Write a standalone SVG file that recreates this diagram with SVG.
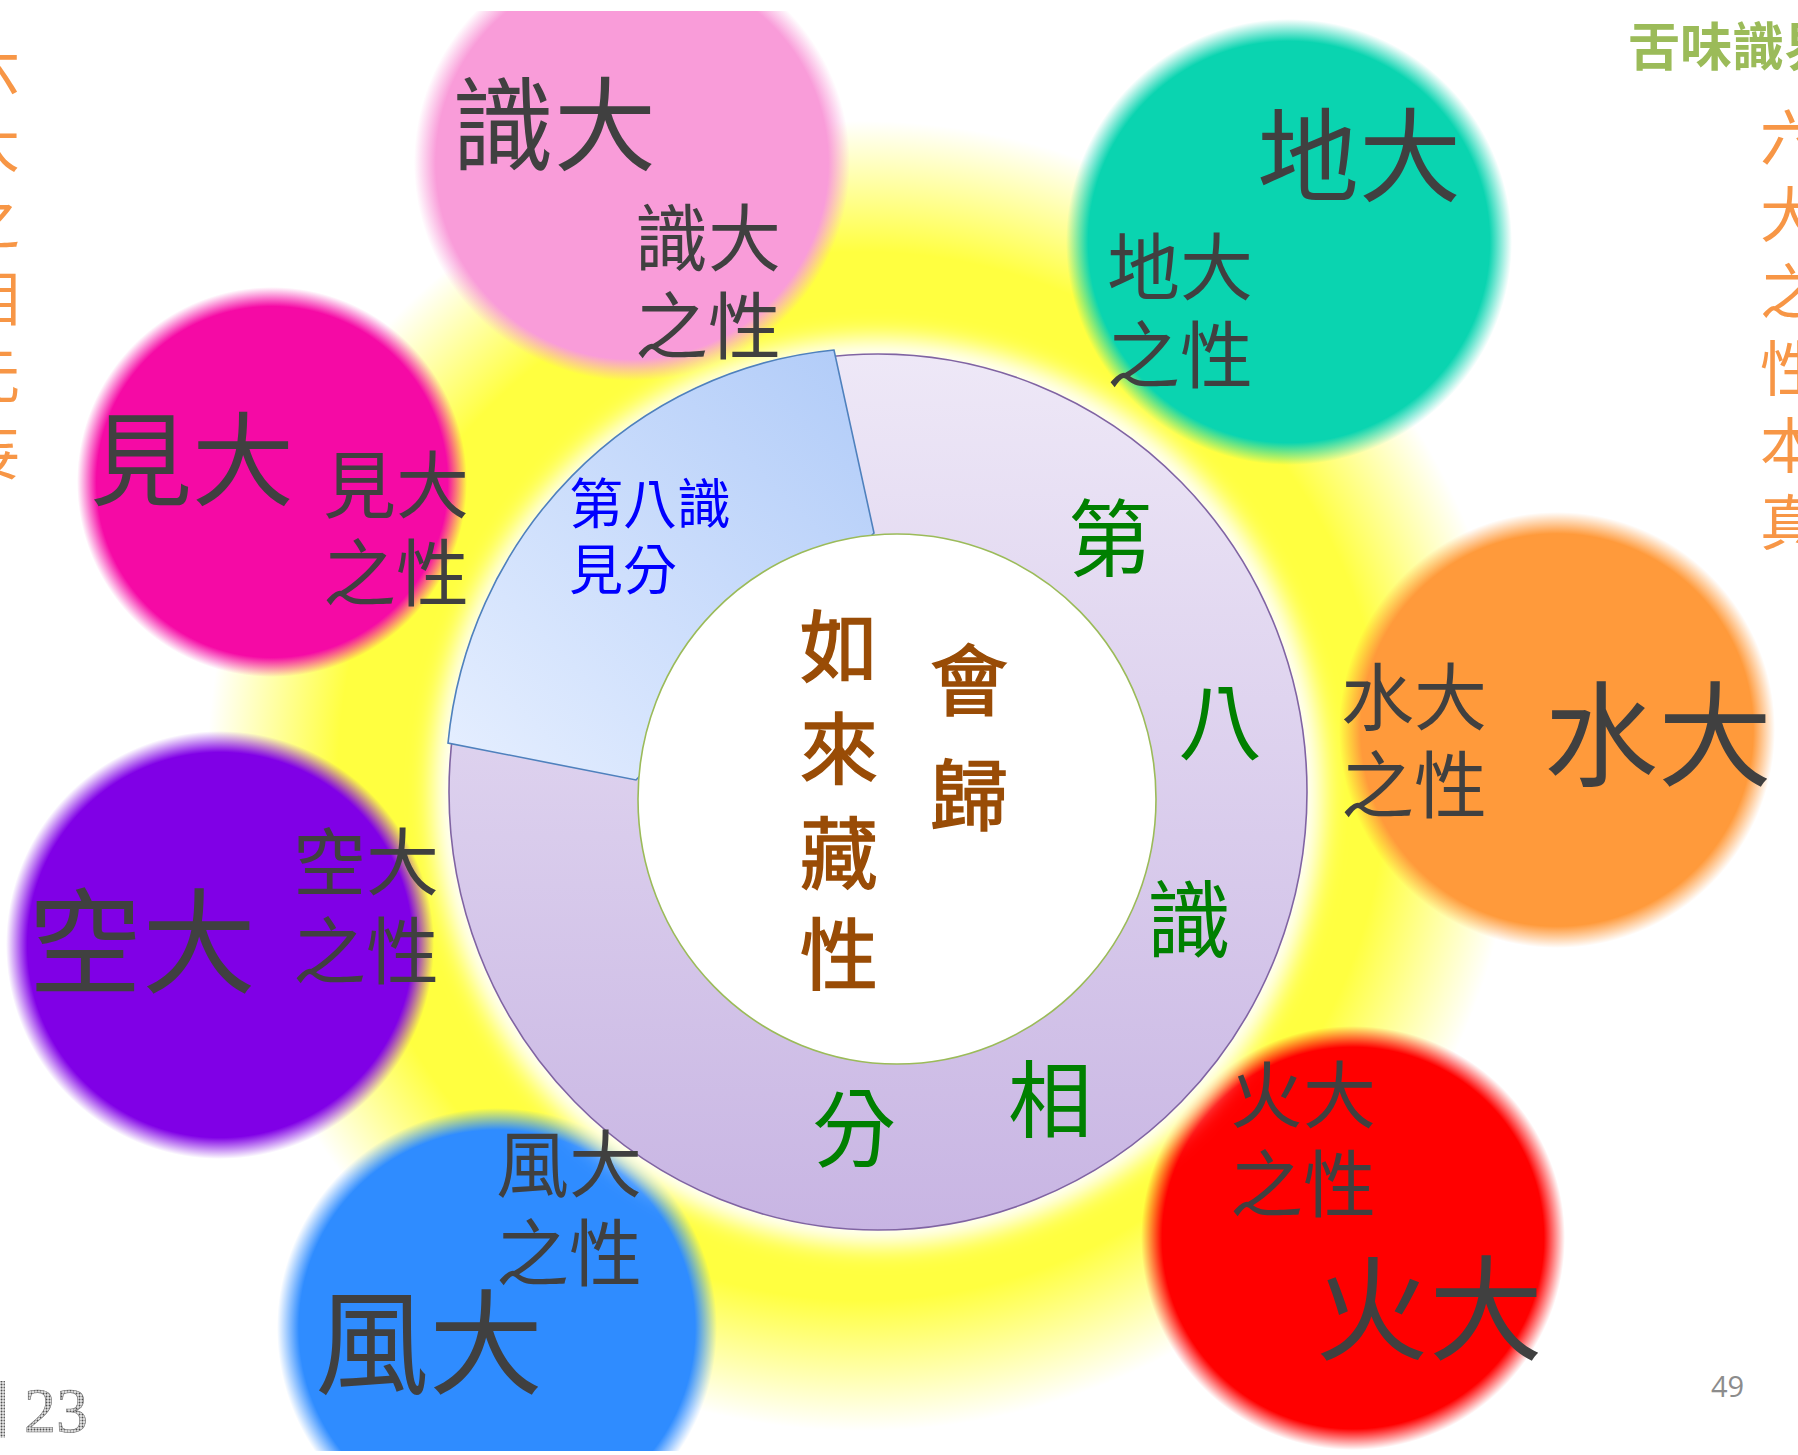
<svg xmlns="http://www.w3.org/2000/svg" width="1798" height="1455" viewBox="0 0 1798 1455">
<style>
.cjk{font-family:"Noto Sans CJK TC","Noto Sans CJK SC",sans-serif}
.lbl{fill:#404040}
.big1{font-size:102px}
.big2{font-size:114px}
.sm{font-size:73px}
.ring{font-size:84px;fill:#008000;text-anchor:middle}
.core{font-size:78px;fill:#994c06;stroke:#994c06;stroke-width:1.6px;text-anchor:middle}
.vert{font-size:60px;fill:#f79646}
</style>
<defs>
<radialGradient id="glow" gradientUnits="userSpaceOnUse" cx="862" cy="776" r="655">
<stop offset="0" stop-color="#ffff40"/>
<stop offset="0.8" stop-color="#ffff40"/>
<stop offset="0.9" stop-color="#ffff40" stop-opacity="0.5"/>
<stop offset="1" stop-color="#ffff40" stop-opacity="0"/>
</radialGradient>
<radialGradient id="gPink"><stop offset="0" stop-color="#f99cd9"/><stop offset="0.9" stop-color="#f99cd9"/><stop offset="1" stop-color="#f99cd9" stop-opacity="0"/></radialGradient>
<radialGradient id="gGreen"><stop offset="0" stop-color="#0ad4b0"/><stop offset="0.9" stop-color="#0ad4b0"/><stop offset="1" stop-color="#0ad4b0" stop-opacity="0"/></radialGradient>
<radialGradient id="gMag"><stop offset="0" stop-color="#f50aa5"/><stop offset="0.9" stop-color="#f50aa5"/><stop offset="1" stop-color="#f50aa5" stop-opacity="0"/></radialGradient>
<radialGradient id="gOrange"><stop offset="0" stop-color="#ff9a3b"/><stop offset="0.9" stop-color="#ff9a3b"/><stop offset="1" stop-color="#ff9a3b" stop-opacity="0"/></radialGradient>
<radialGradient id="gPurple"><stop offset="0" stop-color="#8000e6"/><stop offset="0.9" stop-color="#8000e6"/><stop offset="1" stop-color="#8000e6" stop-opacity="0"/></radialGradient>
<radialGradient id="gBlue"><stop offset="0" stop-color="#2f8cff"/><stop offset="0.9" stop-color="#2f8cff"/><stop offset="1" stop-color="#2f8cff" stop-opacity="0"/></radialGradient>
<radialGradient id="gRed"><stop offset="0" stop-color="#ff0000"/><stop offset="0.9" stop-color="#ff0000"/><stop offset="1" stop-color="#ff0000" stop-opacity="0"/></radialGradient>
<linearGradient id="gRing" x1="0" y1="0" x2="0" y2="1">
<stop offset="0" stop-color="#eee8f7"/><stop offset="1" stop-color="#c8b5e3"/>
</linearGradient>
<linearGradient id="gSlice" x1="0" y1="1" x2="1" y2="0">
<stop offset="0" stop-color="#e6efff"/><stop offset="1" stop-color="#b0cbf8"/>
</linearGradient>
<filter id="blur" x="-20%" y="-20%" width="140%" height="140%"><feGaussianBlur stdDeviation="12"/></filter>
<pattern id="dots" width="3" height="3" patternUnits="userSpaceOnUse"><rect width="3" height="3" fill="#e8e8e8"/><circle cx="1.5" cy="1.5" r="1" fill="#505050"/></pattern>
<clipPath id="page"><rect x="0" y="11" width="1798" height="1440"/></clipPath>
</defs>
<rect width="1798" height="1455" fill="#ffffff"/>
<g clip-path="url(#page)">
<ellipse cx="862" cy="776" rx="655" ry="655" fill="url(#glow)"/>
<g id="n-shi"><circle cx="632" cy="163" r="218" fill="url(#gPink)"/></g>
<g id="n-di"><circle cx="1289" cy="242" r="223" fill="url(#gGreen)"/></g>
<g id="n-jian"><circle cx="272" cy="482" r="195" fill="url(#gMag)"/></g>
<g id="n-shui"><circle cx="1557" cy="730" r="218" fill="url(#gOrange)"/></g>
<g id="n-kong"><circle cx="220" cy="945" r="214" fill="url(#gPurple)"/></g>
<g id="n-feng"><circle cx="497" cy="1328" r="220" fill="url(#gBlue)"/></g>
<g id="n-huo"><circle cx="1353" cy="1238" r="212" fill="url(#gRed)"/></g>
</g>
<g id="ring">
<ellipse cx="878" cy="792" rx="445" ry="454" fill="#ffffff" filter="url(#blur)"/>
<ellipse cx="878" cy="792" rx="429" ry="438" fill="url(#gRing)" stroke="#8064a2" stroke-width="1.6"/>
<path d="M834,350 A429,438 0 0 0 448,743 L636,780 L874,533 Z" fill="url(#gSlice)" stroke="#4f81bd" stroke-width="1.6"/>
<ellipse cx="897" cy="799" rx="259" ry="265" fill="#ffffff" stroke="#9bbb59" stroke-width="1.6"/>
</g>
<g class="cjk">
<g id="t-shi" class="lbl"><text class="big1" x="452" y="163">識大</text><text class="sm" x="635" y="265">識大</text><text class="sm" x="635" y="353">之性</text></g>
<g id="t-di" class="lbl"><text class="big1" x="1257" y="194">地大</text><text class="sm" x="1107" y="294">地大</text><text class="sm" x="1107" y="382">之性</text></g>
<g id="t-jian" class="lbl"><text class="big1" x="90" y="498">見大</text><text class="sm" x="323" y="512">見大</text><text class="sm" x="323" y="600">之性</text></g>
<g id="t-shui" class="lbl"><text class="big2" x="1544" y="777">水大</text><text class="sm" x="1341" y="724">水大</text><text class="sm" x="1341" y="812">之性</text></g>
<g id="t-kong" class="lbl"><text class="big2" x="28" y="984">空大</text><text class="sm" x="293" y="889">空大</text><text class="sm" x="293" y="978">之性</text></g>
<g id="t-feng" class="lbl"><text class="sm" x="496" y="1191">風大</text><text class="sm" x="496" y="1280">之性</text><text class="big2" x="315" y="1385">風大</text></g>
<g id="t-huo" class="lbl"><text class="sm" x="1230" y="1122">火大</text><text class="sm" x="1230" y="1211">之性</text><text class="big2" x="1315" y="1351">火大</text></g>
<g id="t-slice" fill="#0000ff" font-size="54"><text x="569" y="524">第八識</text><text x="569" y="590">見分</text></g>
<g id="t-ring">
<text class="ring" x="1110" y="570">第</text>
<text class="ring" x="1220" y="753">八</text>
<text class="ring" x="1189" y="951">識</text>
<text class="ring" x="1050" y="1131">相</text>
<text class="ring" x="854" y="1160">分</text>
</g>
<g id="t-core">
<text class="core" x="839" y="676">如</text>
<text class="core" x="839" y="778">來</text>
<text class="core" x="839" y="883">藏</text>
<text class="core" x="839" y="984">性</text>
<text class="core" x="969" y="710">會</text>
<text class="core" x="969" y="825">歸</text>
</g>
<g id="t-left" class="vert">
<text x="-40" y="90">六</text><text x="-40" y="167">大</text><text x="-40" y="244">之</text><text x="-40" y="321">相</text><text x="-40" y="398">元</text><text x="-40" y="475">妄</text>
</g>
<g id="t-right" class="vert">
<text x="1760" y="160">六</text><text x="1760" y="237">大</text><text x="1760" y="314">之</text><text x="1760" y="391">性</text><text x="1760" y="468">本</text><text x="1760" y="545">真</text>
</g>
<text id="t-top" x="1628" y="66" font-size="52" font-weight="bold" fill="#9bbb59">舌味識界</text>
</g>
<g id="t-fig" font-size="64"><text x="-54" y="1432" class="cjk" fill="url(#dots)">圖</text><text x="24" y="1432" font-family="Liberation Serif, serif" fill="url(#dots)" stroke="#707070" stroke-width="0.6">23</text></g>
<text id="t-page" x="1711" y="1397" font-family="Open Sans, Liberation Sans, sans-serif" font-size="29" fill="#8c8c8c">49</text>
</svg>
